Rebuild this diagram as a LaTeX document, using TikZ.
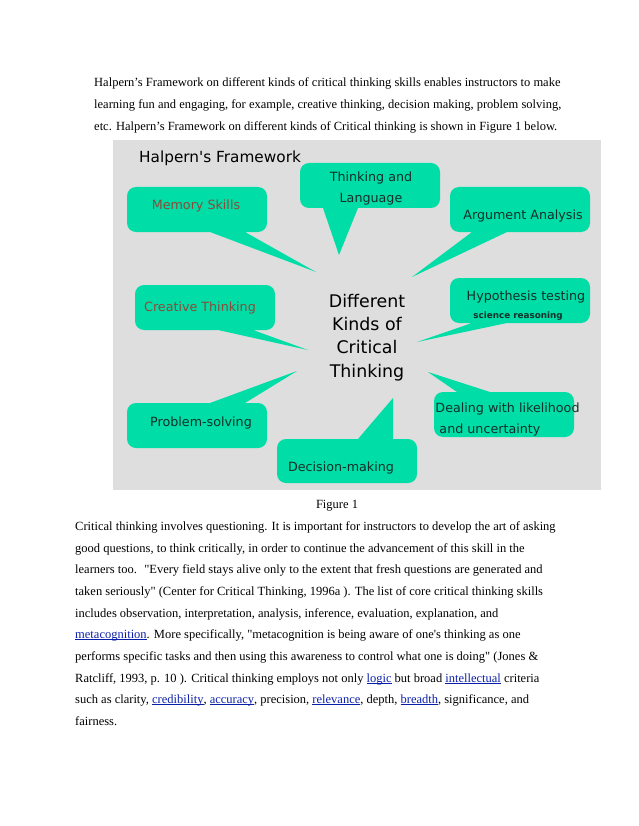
\documentclass[tikz,border=0pt]{standalone}
\usepackage{fontspec}
\setmainfont[Ligatures=TeXOff]{Liberation Serif}
\newfontfamily\labelfont{DejaVu Sans}
\definecolor{panelgray}{HTML}{DEDEDE}
\definecolor{bubblegreen}{HTML}{00DDA6}
\definecolor{brownlabel}{HTML}{8A4B3A}
\definecolor{darklabel}{HTML}{12302A}
\definecolor{linkblue}{HTML}{0A1FA8}
\newcommand{\linkword}[1]{\textcolor{linkblue}{\underline{\smash{#1}}}}
\tikzset{
  bodyline/.style={anchor=base west, inner sep=0pt, font=\fontsize{12.5}{14}\selectfont, text=black},
  bubble/.style={fill=bubblegreen, draw=none, rounded corners=9pt},
  bubbletext/.style={anchor=center, inner sep=0pt, align=center, font=\labelfont\fontsize{12.7}{21}\selectfont, text=darklabel},
  brownbubbletext/.style={bubbletext, text=brownlabel}
}
\begin{document}
\begin{tikzpicture}[x=1pt,y=-1pt]
    \useasboundingbox (0,0) rectangle (638,826);

    % top paragraph
    \node (top1) [bodyline] at (94,87) {Halpern’s Framework on different kinds of critical thinking skills enables instructors to make};
    \node (top2) [bodyline] at (94,109) {learning fun and engaging, for example, creative thinking, decision making, problem solving,};
    \node (top3) [bodyline] at (94,131) {etc. Halpern’s Framework on different kinds of Critical thinking is shown in Figure 1 below.};

    % panel
    \fill [panelgray] (113,140) rectangle (600.5,490);
    \node (title) [bubbletext, anchor=base west, font=\labelfont\fontsize{15.3}{18}\selectfont, text=black] at (139,163) {Halpern's Framework};

    % bubbles
    \fill [bubble] (127,187) -- (267,187) -- (267,232) [sharp corners] -- (245,232) -- (316,272) -- (210,232) [rounded corners=9pt] -- (127,232) -- cycle;
    \fill [bubble] (300,163) -- (440,163) -- (440,208) [sharp corners] -- (358,208) -- (339,255) -- (323,208) [rounded corners=9pt] -- (300,208) -- cycle;
    \fill [bubble] (450,187) -- (590,187) -- (590,232) [sharp corners] -- (507,232) -- (412,277) -- (472,232) [rounded corners=9pt] -- (450,232) -- cycle;
    \fill [bubble] (450,278) -- (590,278) -- (590,323) [sharp corners] -- (507,323) -- (417,342) -- (472,323) [rounded corners=9pt] -- (450,323) -- cycle;
    \fill [bubble] (135,285) -- (275,285) -- (275,330) [sharp corners] -- (253,330) -- (308,350) -- (218,330) [rounded corners=9pt] -- (135,330) -- cycle;
    \fill [bubble] (127,448) -- (127,403) [sharp corners] -- (210,403) -- (297,371) -- (245,403) [rounded corners=9pt] -- (267,403) -- (267,448) -- cycle;
    \fill [bubble] (277,483) -- (277,439) [sharp corners] -- (358,439) -- (393,398) -- (393,439) [rounded corners=9pt] -- (417,439) -- (417,483) -- cycle;
    \fill [bubble] (434,437) -- (434,392) [sharp corners] -- (457,392) -- (428,372) -- (490,392) [rounded corners=9pt] -- (574,392) -- (574,437) -- cycle;

    % bubble labels
    \node (memory) [brownbubbletext] at (196,206) {Memory Skills};
    \node (language) [bubbletext] at (371,188.5) {Thinking and\\Language};
    \node (argument) [bubbletext] at (523,216) {Argument Analysis};
    \node (hypothesis) [bubbletext] at (526,297) {Hypothesis testing};
    \node (science) [bubbletext, font=\labelfont\bfseries\fontsize{8.8}{10}\selectfont] at (518,316) {science reasoning};
    \node (creative) [brownbubbletext] at (200,308) {Creative Thinking};
    \node (problem) [bubbletext] at (201,423) {Problem-solving};
    \node (decision) [bubbletext] at (341,468) {Decision-making};
    \node (dealing) [bubbletext, align=left] at (507.5,419.5) {Dealing with likelihood\\\hspace*{4pt}and uncertainty};
    \node (center) [bubbletext, font=\labelfont\fontsize{17.4}{23.2}\selectfont, text=black] at (367,337.5) {Different\\Kinds of\\Critical\\Thinking};

    \node (caption) [bodyline, anchor=base] at (337,508) {Figure 1};

    % lower paragraph
    \node (low1) [bodyline] at (75,530) {Critical thinking involves questioning. It is important for instructors to develop the art of asking};
    \node (low2) [bodyline] at (75,552) {good questions, to think critically, in order to continue the advancement of this skill in the};
    \node (low3) [bodyline] at (75,573) {learners too. \ "Every field stays alive only to the extent that fresh questions are generated and};
    \node (low4) [bodyline] at (75,595) {taken seriously" (Center for Critical Thinking, 1996a ). The list of core critical thinking skills};
    \node (low5) [bodyline] at (75,617) {includes observation, interpretation, analysis, inference, evaluation, explanation, and};
    \node (low6) [bodyline] at (75,638) {\linkword{metacognition}. More specifically, "metacognition is being aware of one's thinking as one};
    \node (low7) [bodyline] at (75,660) {performs specific tasks and then using this awareness to control what one is doing" (Jones \&};
    \node (low8) [bodyline] at (75,682) {Ratcliff, 1993, p. 10 ). Critical thinking employs not only \linkword{logic} but broad \linkword{intellectual} criteria};
    \node (low9) [bodyline] at (75,703) {such as clarity, \linkword{credibility}, \linkword{accuracy}, precision, \linkword{relevance}, depth, \linkword{breadth}, significance, and};
    \node (low10) [bodyline] at (75,725) {fairness.};

\end{tikzpicture}
\end{document}
